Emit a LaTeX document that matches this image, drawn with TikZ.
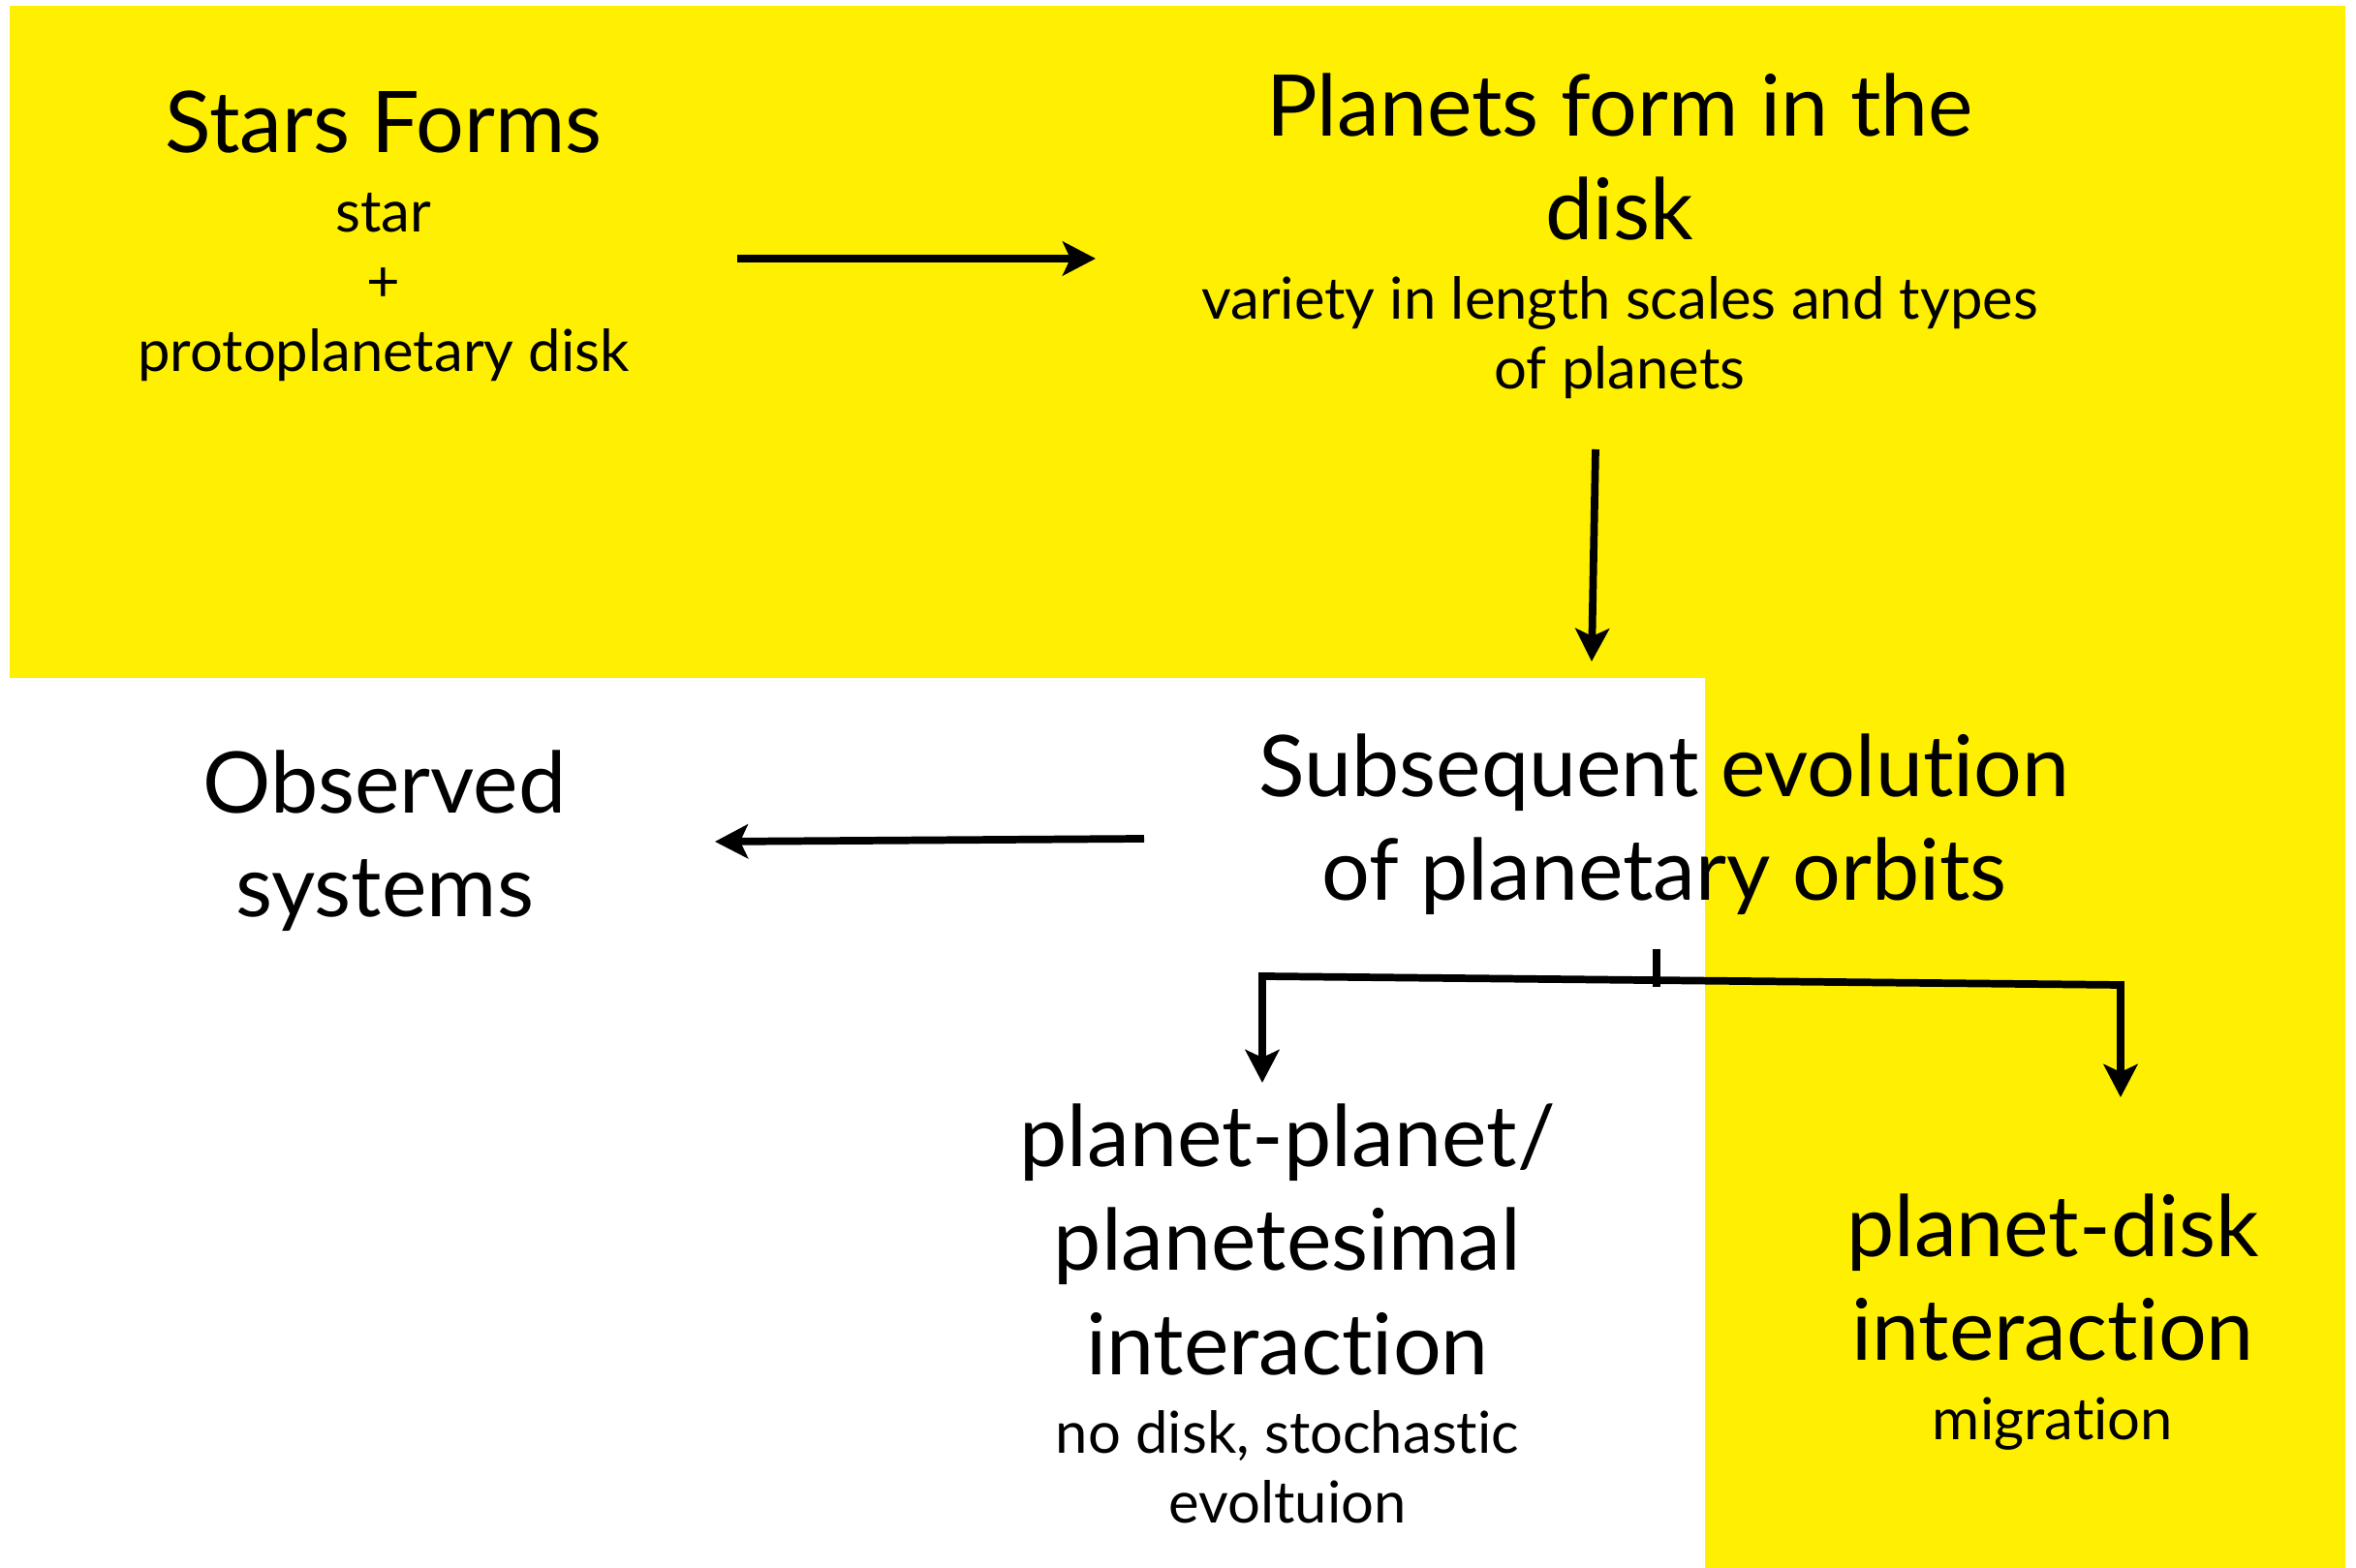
\documentclass[tikz,border=0pt]{standalone}
\usepackage{fontspec}
\setmainfont{Lato}[Ligatures=NoCommon]
\usetikzlibrary{arrows.meta,positioning}
\definecolor{hilite}{RGB}{255,239,0}

\begin{document}
\begin{tikzpicture}[
  big/.style={font=\fontsize{25}{30.5}\selectfont, align=center, inner sep=0pt, anchor=north},
  small/.style={font=\fontsize{17}{20.5}\selectfont, align=center, inner sep=0pt},
  arr/.style={line width=2.2pt, -{Stealth[length=3.4mm,width=3.5mm,inset=0.8mm]}},
  arrs/.style={line width=2.2pt, {Stealth[length=3.4mm,width=3.5mm,inset=0.8mm]}-{Stealth[length=3.4mm,width=3.5mm,inset=0.8mm]}}
]
\useasboundingbox (0,0) rectangle (24.32,16.19);
\fill[hilite] (0.10,9.19) rectangle (24.21,16.13);
\fill[hilite] (17.60,0) rectangle (24.21,9.19);

\node[big] (stars) at (3.96,15.37) {\strut Stars Forms};
\node[small, below=-0.7pt of stars] (starsnote) {\strut star\\\strut +\\\strut protoplanetary disk};

\node[big] (planets) at (16.72,15.54) {\strut Planets form in the\\\strut disk};
\node[small, below=-0.7pt of planets] (planetsnote) {\strut variety in length scales and types\\\strut of planets};

\node[big] (observed) at (3.97,8.55) {\strut Observed\\\strut systems};
\node[big] (subseq) at (17.18,8.72) {\strut Subsequent evolution\\\strut of planetary orbits};

\node[big] (pp) at (13.29,4.90) {\strut planet-planet/\\\strut planetesimal\\\strut interaction};
\node[small, below=-0.7pt of pp] (ppnote) {\strut no disk, stochastic\\\strut evoltuion};

\node[big] (pd) at (21.19,3.97) {\strut planet-disk\\\strut interaction};
\node[small, below=-0.7pt of pd] (pdnote) {\strut migration};

\coordinate (a1s) at (7.61,13.52);
\coordinate (a1e) at (11.31,13.52);
\coordinate (a2s) at (16.47,11.55);
\coordinate (a2e) at (16.43,9.36);
\coordinate (a3s) at (11.81,7.53);
\coordinate (a3e) at (7.38,7.50);
\coordinate (tick) at (17.10,6.39);
\coordinate (fork) at (17.10,6.00);
\coordinate (forkl) at (13.03,6.11);
\coordinate (forkr) at (21.89,6.02);
\coordinate (ppin) at (13.03,5.01);
\coordinate (pdin) at (21.89,4.86);

\draw[arr] (a1s) -- (a1e);
\draw[arr] (a2s) -- (a2e);
\draw[arr] (a3s) -- (a3e);
\draw[line width=2pt] (tick) -- (fork);
\draw[arrs] (ppin) -- (forkl) -- (forkr) -- (pdin);
\end{tikzpicture}
\end{document}
